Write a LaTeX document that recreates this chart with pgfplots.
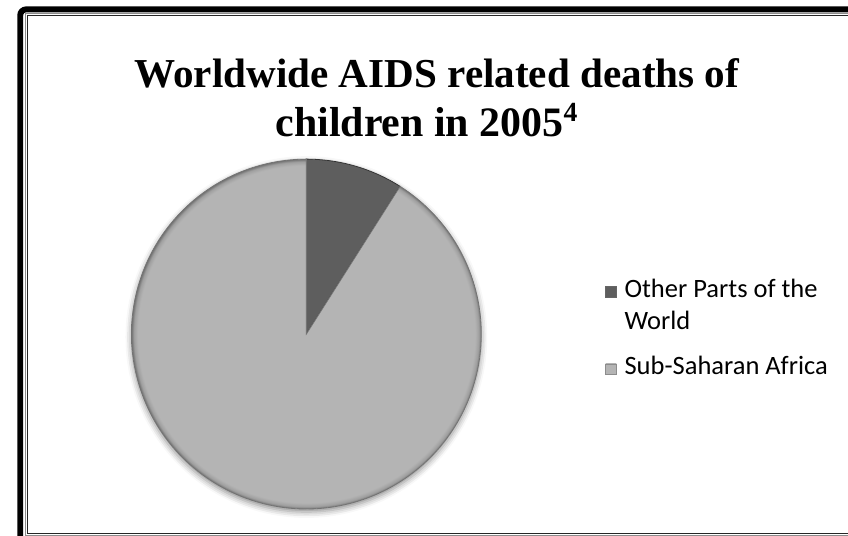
\documentclass[border=0pt]{standalone}
\usepackage{pgfplots}
\pgfplotsset{compat=1.18}
\usepackage{pgfplotstable}
\usepackage{fontspec}
\setmainfont{Liberation Serif}
\newfontfamily\legfont{Carlito}
\usetikzlibrary{shadows.blur}

\definecolor{otherfill}{HTML}{5E5E5E}
\definecolor{ssafill}{HTML}{B4B4B4}
\pgfdeclareradialshading{ssarim}{\pgfpoint{0bp}{0bp}}{color(0bp)=(ssafill); color(24.1bp)=(ssafill); color(24.65bp)=(ssafill!88!black); color(25bp)=(ssafill!62!black); color(50bp)=(ssafill!62!black)}
\pgfdeclareradialshading{ssaflat}{\pgfpoint{0bp}{0bp}}{color(0bp)=(ssafill); color(50bp)=(ssafill)}

% share of deaths, percent
\pgfplotstableread{
region value
Other 9
SSA 91
}\deaths

\begin{document}
\pgfplotstablegetelem{0}{value}\of\deaths \let\vOther\pgfplotsretval
\pgfplotstablegetelem{1}{value}\of\deaths \let\vSSA\pgfplotsretval
\pgfmathsetmacro\aMid{90-3.6*\vOther}
\pgfmathsetmacro\aEnd{\aMid-3.6*\vSSA}
\begin{tikzpicture}[x=0.5bp,y=-0.5bp]
\useasboundingbox (0,0) rectangle (848,542);
\clip (0,0) rectangle (848,542);
% frame
\draw[line width=3bp, rounded corners=3bp] (10.5,9.5) rectangle (900,600);
\draw[line width=0.5bp, black!45] (15.5,13.5) rectangle (900,541.5);
\draw[line width=0.6bp, black!85] (17.5,15.5) rectangle (900,539.5);
% title
\node[font=\fontsize{20.8bp}{24.5bp}\selectfont\bfseries, anchor=base] at (432,89) {Worldwide AIDS related deaths of};
\node[font=\fontsize{21.2bp}{24.5bp}\selectfont\bfseries, anchor=base] at (422,138) {children in 2005\textsuperscript{\fontsize{14bp}{14bp}\selectfont 4}};
\coordinate (pc) at (300,338);
\begin{axis}[
    at={(pc)}, anchor=origin,
    scale only axis, width=177bp, height=177bp,
    xmin=-1, xmax=1, ymin=-1, ymax=1,
    hide axis, clip=false,
    legend style={at={(1.353,0.669)}, anchor=north west, draw=none, fill=none,
        inner sep=0pt, row sep=8bp,
        font=\legfont\fontsize{13.4bp}{16.2bp}\selectfont,
        cells={anchor=base west, align=left},
        /tikz/every odd column/.append style={column sep=2bp}},
]
\fill[white, blur shadow={shadow xshift=0bp, shadow yshift=-1.5bp, shadow blur radius=3bp, shadow opacity=45}] (axis cs:0,0) circle[radius=88.5bp];

\addplot[fill=otherfill, draw=black!80, line width=0.4bp, domain=\aMid:90, samples=40, variable=\t,
    legend image code/.code={\draw[fill=otherfill, draw=black!60, line width=0.3bp] (0bp,16.2bp) rectangle (5.5bp,21.7bp);}]
    ({cos(\t)},{sin(\t)}) -- (axis cs:0,0) -- cycle;
\addlegendentry{Other Parts of the\\World}

\addplot[shade, shading=ssarim, draw=black!55, line width=0.4bp, domain=\aEnd:\aMid, samples=200, variable=\t,
    legend image code/.code={\draw[shading=ssaflat, fill=ssafill, draw=black!45, line width=0.3bp] (0bp,0bp) rectangle (5.5bp,5.5bp);}]
    ({cos(\t)},{sin(\t)}) -- (axis cs:0,0) -- cycle;
\addlegendentry{Sub-Saharan Africa}
\end{axis}
\end{tikzpicture}
\end{document}
